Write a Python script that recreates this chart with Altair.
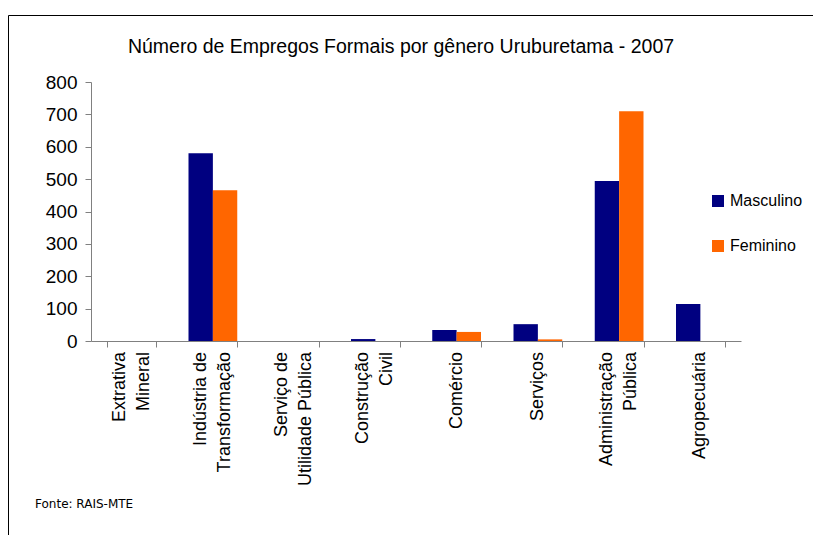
import altair as alt
import pandas as pd

categories = ["Extrativa|Mineral", "Indústria de|Transformação", "Serviço de|Utilidade Pública",
              "Construção|Civil", "Comércio", "Serviços", "Administração|Pública", "Agropecuária"]
masculino = [0, 580, 0, 6, 34, 52, 494, 114]
feminino = [0, 466, 0, 0, 28, 5, 710, 0]
genders = ["Masculino", "Feminino"]
colors = ["#000080", "#FF6600"]
title_text = "Número de Empregos Formais por gênero Uruburetama - 2007"
source_text = "Fonte: RAIS-MTE"

rows = []
for c, m, f in zip(categories, masculino, feminino):
    rows.append({"cat": c, "genero": "Masculino", "valor": m})
    rows.append({"cat": c, "genero": "Feminino", "valor": f})
df = pd.DataFrame(rows)

lab = pd.DataFrame({"cat": categories,
                    "multi": ["|" in c for c in categories]})

FONT = "Liberation Sans"
xenc = alt.X("cat:N", sort=categories,
             scale=alt.Scale(paddingInner=0.4, paddingOuter=0.2),
             axis=alt.Axis(title=None, labels=False, tickBand="extent",
                           tickSize=6, tickColor="#808080", domainColor="#808080"))

bars = alt.Chart(df).mark_bar().encode(
    x=xenc,
    xOffset=alt.XOffset("genero:N", sort=genders, scale=alt.Scale(paddingInner=0, paddingOuter=0)),
    y=alt.Y("valor:Q", scale=alt.Scale(domain=[0, 800], nice=False),
            axis=alt.Axis(title=None, values=list(range(0, 801, 100)), grid=False,
                          labelFontSize=19, labelFont=FONT, labelColor="#000000",
                          labelPadding=8, tickSize=6, tickColor="#808080",
                          domainColor="#808080")),
    color=alt.Color("genero:N", sort=genders,
                    scale=alt.Scale(domain=genders, range=colors),
                    legend=alt.Legend(title=None, orient="none", legendX=619, legendY=111,
                                      symbolType="square", symbolSize=144, symbolStrokeWidth=0,
                                      labelFontSize=16, labelFont=FONT, labelColor="#000000",
                                      rowPadding=29, labelOffset=4, padding=0)),
)

def labels(multi, dy):
    return alt.Chart(lab).transform_filter(
        "datum.multi" if multi else "!datum.multi"
    ).mark_text(font=FONT, fontSize=18, angle=270, align="right", baseline="middle",
                lineBreak="|", lineHeight=24, dy=dy, color="#000000").encode(
        x=alt.X("cat:N", sort=categories),
        y=alt.value(270),
        text="cat:N",
    )

one = pd.DataFrame({"t": [title_text], "s": [source_text]})

frame = alt.Chart(one).mark_rect(filled=False, stroke="#000000", strokeWidth=1).encode(
    x=alt.value(-82.5), x2=alt.value(800), y=alt.value(-66.5), y2=alt.value(700)
)

title = alt.Chart(one).mark_text(font=FONT, fontSize=19.5, align="center", baseline="alphabetic",
                                 color="#000000").encode(
    text="t:N", x=alt.value(310), y=alt.value(-29)
)

source = alt.Chart(one).mark_text(font="DejaVu Sans", fontSize=12, align="left", baseline="alphabetic",
                                  color="#000000").encode(
    text="s:N", x=alt.value(-56), y=alt.value(426)
)

chart = alt.layer(frame, bars, labels(True, -12), labels(False, 0), title, source).properties(
    width=650, height=259, autosize="none",
    padding={"left": 83, "top": 74, "right": 72, "bottom": 194},
    background="#ffffff"
).configure_view(stroke=None)

chart.save("out.html", embed_options={"renderer": "svg", "actions": False})
